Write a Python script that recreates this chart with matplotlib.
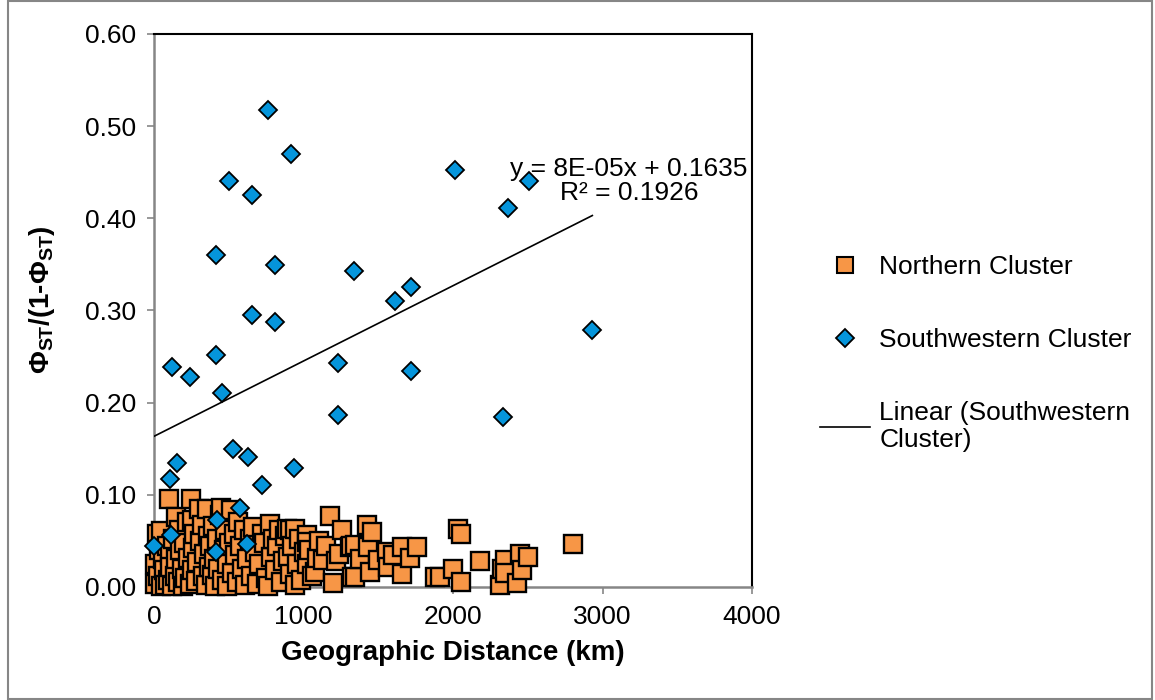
import matplotlib
matplotlib.use('Agg')
import matplotlib.pyplot as plt
from matplotlib.lines import Line2D
from matplotlib.patches import Rectangle
from matplotlib.ticker import FormatStrFormatter
import numpy as np

plt.rcParams['font.family'] = ['Liberation Sans', 'DejaVu Sans']
plt.rcParams['mathtext.fontset'] = 'custom'
plt.rcParams['mathtext.rm'] = 'Liberation Sans:bold'
plt.rcParams['mathtext.bf'] = 'Liberation Sans:bold'
plt.rcParams['mathtext.default'] = 'bf'

# Northern cluster (distance km, PhiST/(1-PhiST))
north_x = [5, 10, 20, 25, 35, 45, 50, 60, 70, 75, 85, 95, 100, 105, 110, 120, 130, 140, 145,
           150, 160, 170, 174, 185, 195, 200, 210, 220, 230, 240, 247, 252, 255, 262, 270, 280, 290, 300, 305,
           319, 325, 335, 345, 352, 360, 368, 375, 386, 395, 402, 410, 420, 430, 440, 450, 455, 465, 475, 485, 490, 500,
           515, 525, 535, 545, 555, 565, 575, 590, 600, 612, 625, 640, 650, 665, 678, 690, 705, 720, 735, 748, 760, 775, 785, 795,
           810, 820, 835, 848, 860, 875, 890, 898, 910, 910, 925, 943, 943, 958, 970, 985, 1000, 1021, 1021, 1021, 1040, 1055, 1077, 1090, 1105,
           1132, 1150, 1177, 1199, 1215, 1240, 1260, 1311, 1318, 1322, 1345, 1345, 1380, 1423, 1434, 1445, 1460, 1500,
           1556, 1567, 1600, 1657, 1657, 1712, 1757, 1880, 1913, 2002, 2036, 2051, 2054,
           2181, 2314, 2330, 2348, 2348, 2426, 2448, 2459, 2504, 2805]
north_y = [0.003, 0.025, 0.058, 0.012, 0.040, 0.001, 0.061, 0.030, 0.018, 0.002, 0.045, 0.008, 0.095, 0.035, 0.022, 0.001, 0.052, 0.012, 0.076,
           0.030, 0.005, 0.062, 0.040, 0.020, 0.001, 0.048, 0.010, 0.070, 0.032, 0.003, 0.096, 0.073, 0.018, 0.042, 0.058, 0.006, 0.027, 0.085, 0.050,
           0.067, 0.012, 0.036, 0.002, 0.085, 0.055, 0.022, 0.045, 0.013, 0.066, 0.030, 0.001, 0.052, 0.020, 0.078, 0.086, 0.008, 0.040, 0.062, 0.025, 0.001, 0.048,
           0.084, 0.015, 0.058, 0.035, 0.005, 0.070, 0.045, 0.020, 0.062, 0.002, 0.030, 0.052, 0.012, 0.065, 0.038, 0.003, 0.025, 0.058, 0.048, 0.010, 0.001, 0.068, 0.033, 0.052,
           0.018, 0.045, 0.062, 0.005, 0.028, 0.055, 0.063, 0.0325, 0.062, 0.0145, 0.045, 0.063, 0.002, 0.025, 0.052, 0.008, 0.038, 0.056, 0.049, 0.025, 0.040, 0.012, 0.016, 0.032, 0.050,
           0.029, 0.045, 0.077, 0.004, 0.028, 0.036, 0.0615, 0.0434, 0.044, 0.011, 0.046, 0.011, 0.030, 0.067, 0.043, 0.016, 0.060, 0.029,
           0.038, 0.022, 0.035, 0.0434, 0.0145, 0.031, 0.0434, 0.011, 0.011, 0.020, 0.0626, 0.058, 0.005,
           0.028, 0.002, 0.020, 0.029, 0.0148, 0.004, 0.036, 0.018, 0.033, 0.047]

# Southwestern cluster
sw_x = [764, 914, 502, 656, 2016, 2511, 2366, 412, 807, 1336, 1719, 1612, 656, 807, 2932,
        412, 120, 241, 455, 1229, 1719, 1229, 2337, 528, 627, 154, 936, 107, 725,
        575, 424, 111, 0, 620, 415]
sw_y = [0.517, 0.470, 0.441, 0.425, 0.452, 0.441, 0.411, 0.360, 0.349, 0.343, 0.325, 0.310, 0.295, 0.288, 0.279,
        0.252, 0.239, 0.228, 0.211, 0.243, 0.234, 0.187, 0.184, 0.150, 0.141, 0.135, 0.129, 0.117, 0.111,
        0.086, 0.073, 0.056, 0.045, 0.047, 0.038]

# Excel linear trendline for the southwestern cluster
trend_slope = 8.17e-5
trend_intercept = 0.1635
trend_label = 'y = 8E-05x + 0.1635\nR² = 0.1926'

orange = '#F79646'
blue = '#0595DB'
axis_grey = '#868686'

fig = plt.figure(figsize=(11.55, 7), dpi=100)
ax = fig.add_axes([154 / 1155, 113 / 700, 598 / 1155, 553 / 700])

ax.plot(north_x, north_y, 's', ms=12.5, mfc=orange, mec='black', mew=1.7, zorder=3, clip_on=False)
ax.plot(sw_x, sw_y, 'D', ms=9.5, mfc=blue, mec='black', mew=1.3, zorder=4, clip_on=False)

tx = np.array([min(sw_x), max(sw_x)])
ax.plot(tx, trend_intercept + trend_slope * tx, color='black', lw=1.2, zorder=5)

ax.text(3177, 0.441, trend_label, ha='center', va='center', fontsize=19,
        multialignment='center', linespacing=1.0, zorder=6)

ax.set_xlim(0, 4000)
ax.set_ylim(0, 0.6)
ax.set_xticks(np.arange(0, 4001, 1000))
ax.set_yticks(np.arange(0, 0.61, 0.1))
ax.yaxis.set_major_formatter(FormatStrFormatter('%.2f'))
ax.tick_params(axis='both', labelsize=19, color=axis_grey, length=5, width=1.2, pad=8)

for side in ['left', 'bottom']:
    ax.spines[side].set_color(axis_grey)
    ax.spines[side].set_linewidth(1.8)
for side in ['top', 'right']:
    ax.spines[side].set_color('black')
    ax.spines[side].set_linewidth(1.5)

ax.set_xlabel('Geographic Distance (km)', fontsize=20, fontweight='bold', labelpad=8)
ax.set_ylabel(r'$Φ_{ST}/(1\text{-}Φ_{ST})$', fontsize=20, fontweight='bold')
ax.yaxis.set_label_coords(-0.163, 0.52)

handles = [
    Line2D([], [], ls='none', marker='s', ms=12, mfc=orange, mec='black', mew=1.5),
    Line2D([], [], ls='none', marker='D', ms=9, mfc=blue, mec='black', mew=1.3),
    Line2D([], [], color='black', lw=1.2),
]
labels = ['Northern Cluster', 'Southwestern Cluster', 'Linear (Southwestern\nCluster)']
fig.legend(handles, labels, loc='upper left', bbox_to_anchor=(820 / 1155, 1 - 255 / 700),
           frameon=False, fontsize=19, handlelength=1.9, handletextpad=0.35,
           labelspacing=1.85, borderpad=0, borderaxespad=0)

fig.patches.append(Rectangle((8 / 1155, 1 / 700), 1144 / 1155, 698 / 700, transform=fig.transFigure,
                             fill=False, edgecolor=axis_grey, lw=1.5))

fig.savefig('out.png', dpi=100)
